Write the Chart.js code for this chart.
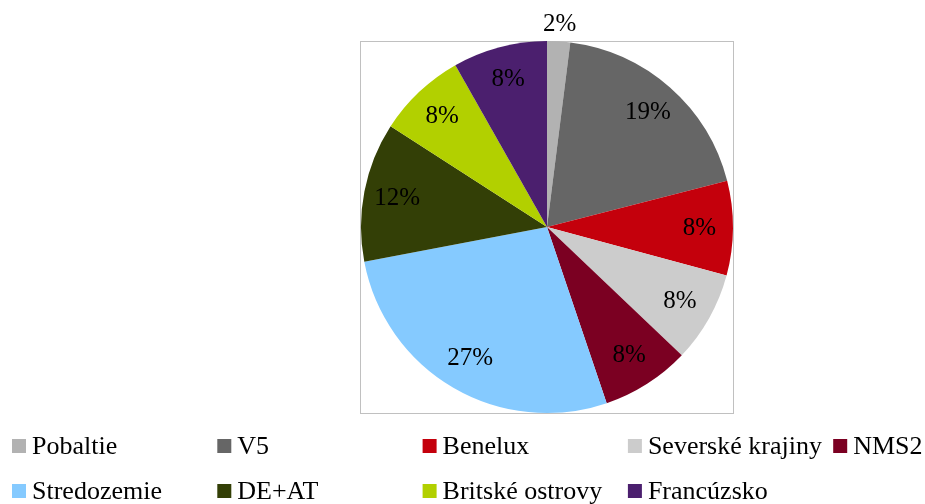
<!DOCTYPE html>
<html>
<head>
<meta charset="utf-8">
<script src="https://cdn.jsdelivr.net/npm/chart.js@4/dist/chart.umd.min.js"></script>
<style>
  html, body { margin: 0; padding: 0; background: #fff; }
  #wrap { width: 925px; height: 504px; }
</style>
</head>
<body>
<div id="wrap"><canvas id="pieChart" width="925" height="504"></canvas></div>
<script>
/* ── Data ── */
var regions = ['Pobaltie', 'V5', 'Benelux', 'Severské krajiny', 'NMS2',
               'Stredozemie', 'DE+AT', 'Britské ostrovy', 'Francúzsko'];
var shares = [2.0, 19.0, 8.2, 7.9, 7.7, 27.2, 12.1, 7.7, 8.2];
var sliceColors = ['#b2b2b2', '#666666', '#c4000c', '#cccccc', '#7b0022',
                   '#85caff', '#333f06', '#b2d000', '#4b1f6e'];

var SERIF = '"Liberation Serif", "Times New Roman", serif';

/* ── Plot area frame (Excel style) ── */
var framePlugin = {
  id: 'frame',
  beforeDatasetsDraw: function(chart) {
    var a = chart.chartArea, ctx = chart.ctx;
    ctx.save();
    ctx.strokeStyle = '#c0c0c0';
    ctx.lineWidth = 1;
    ctx.strokeRect(a.left - 0.5, a.top + 0.5, a.right - a.left + 1, a.bottom - a.top);
    ctx.restore();
  }
};

/* ── Percentage labels on the slices ── */
var labelPlugin = {
  id: 'pctLabels',
  afterDatasetsDraw: function(chart) {
    var ctx = chart.ctx;
    var meta = chart.getDatasetMeta(0);
    var total = shares.reduce(function(s, v) { return s + v; }, 0);
    ctx.save();
    ctx.font = '25px ' + SERIF;
    ctx.fillStyle = '#000';
    ctx.textAlign = 'center';
    ctx.textBaseline = 'middle';
    meta.data.forEach(function(arc, i) {
      var p = arc.getProps(['x', 'y', 'startAngle', 'endAngle', 'outerRadius'], true);
      var mid = (p.startAngle + p.endAngle) / 2;
      var pct = shares[i] / total * 100;
      var dist = pct < 4 ? p.outerRadius * 1.09 : p.outerRadius * 0.82;
      ctx.fillText(Math.round(pct) + '%', p.x + Math.cos(mid) * dist, p.y + Math.sin(mid) * dist);
    });
    ctx.restore();
  }
};

/* ── Legend in 5 columns under the chart ── */
var legendPlugin = {
  id: 'gridLegend',
  afterDraw: function(chart) {
    var ctx = chart.ctx;
    var colW = 205.3, x0 = 12, rows = [439, 484];
    ctx.save();
    ctx.font = '26px ' + SERIF;
    ctx.textBaseline = 'alphabetic';
    ctx.textAlign = 'left';
    regions.forEach(function(name, i) {
      var col = i < 5 ? i : i - 5;
      var row = i < 5 ? 0 : 1;
      var x = x0 + col * colW, y = rows[row];
      ctx.fillStyle = sliceColors[i];
      ctx.fillRect(x, y, 14, 14);
      ctx.fillStyle = '#000';
      ctx.fillText(name, x + 20, y + 15);
    });
    ctx.restore();
  }
};

new Chart(document.getElementById('pieChart'), {
  type: 'pie',
  data: {
    labels: regions,
    datasets: [{
      data: shares,
      backgroundColor: sliceColors,
      borderWidth: 0
    }]
  },
  options: {
    responsive: false,
    animation: false,
    layout: { padding: { left: 361, right: 192, top: 41, bottom: 91 } },
    plugins: {
      legend: { display: false },
      tooltip: { enabled: false }
    }
  },
  plugins: [framePlugin, labelPlugin, legendPlugin]
});
</script>
</body>
</html>
